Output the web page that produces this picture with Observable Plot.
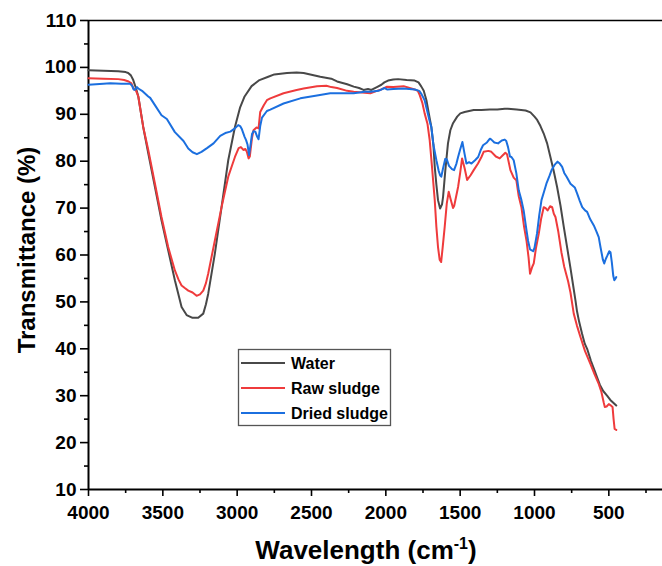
<!DOCTYPE html>
<html><head><meta charset="utf-8">
<script src="https://cdn.jsdelivr.net/npm/d3@7"></script>
<script src="https://cdn.jsdelivr.net/npm/@observablehq/plot@0.6"></script>
<style>
body{margin:0;background:#fff;}
#wrap{position:relative;width:662px;height:566px;overflow:hidden;}
</style></head><body><div id="wrap"></div>
<script>
const seriesNames = ["Water", "Raw sludge", "Dried sludge"];
const seriesColors = ["#484848", "#ef3b3c", "#1b6fdf"];

const xTicks = [4000, 3500, 3000, 2500, 2000, 1500, 1000, 500];
const xMinorTicks = [3750, 3250, 2750, 2250, 1750, 1250, 750, 250];
const yTicks = [10, 20, 30, 40, 50, 60, 70, 80, 90, 100, 110];
const yMinorTicks = [15, 25, 35, 45, 55, 65, 75, 85, 95, 105];

const water = [[4000,99.4],[3900,99.3],[3800,99.2],[3750,99.0],[3733,98.8],[3715,98.3],[3699,97.3],[3680,95.5],[3665,93.8],[3632,87.3],[3598,81.7],[3553,74.5],[3509,67.4],[3464,61.0],[3419,54.6],[3374,48.9],[3340,47.2],[3300,46.6],[3262,46.6],[3228,47.5],[3210,49.5],[3195,51.7],[3150,60.3],[3105,70.2],[3060,80.2],[3015,87.3],[2980,91.5],[2950,93.8],[2903,96.0],[2850,97.3],[2791,98.0],[2750,98.5],[2665,98.8],[2600,98.9],[2553,98.8],[2441,98.0],[2367,97.6],[2328,97.0],[2260,96.4],[2216,95.9],[2180,95.6],[2150,95.2],[2120,95.4],[2097,95.2],[2060,95.8],[2030,96.3],[2010,96.8],[1985,97.2],[1950,97.4],[1918,97.5],[1860,97.3],[1806,97.2],[1780,96.8],[1761,95.9],[1745,95.0],[1727,93.0],[1710,90.0],[1694,87.3],[1680,83.5],[1671,78.8],[1660,75.0],[1649,71.7],[1635,69.9],[1622,70.8],[1615,72.4],[1600,78.0],[1582,83.8],[1566,86.6],[1548,88.1],[1520,89.5],[1499,90.2],[1470,90.5],[1409,90.9],[1357,90.9],[1300,91.0],[1250,91.0],[1200,91.2],[1178,91.2],[1120,91.0],[1060,90.8],[1027,90.4],[1000,89.5],[982,88.8],[960,87.5],[938,85.9],[915,83.8],[893,80.9],[870,77.8],[848,74.5],[825,70.5],[803,66.0],[780,61.5],[758,57.2],[740,53.5],[724,50.2],[714,48.0],[700,45.8],[680,43.2],[662,41.1],[646,40.0],[620,37.4],[595,35.3],[579,33.9],[560,32.3],[538,31.0],[512,30.0],[490,29.1],[470,28.5],[450,27.9]];

const rawSludge = [[4000,97.7],[3900,97.6],[3800,97.5],[3760,97.3],[3730,97.0],[3711,96.6],[3700,95.6],[3689,95.3],[3680,95.0],[3665,93.8],[3632,87.3],[3598,82.4],[3553,75.2],[3509,68.1],[3464,61.7],[3419,56.7],[3395,54.8],[3374,53.5],[3350,52.9],[3329,52.4],[3300,52.0],[3273,51.3],[3250,51.6],[3228,52.4],[3210,54.0],[3195,56.0],[3150,63.1],[3105,70.2],[3060,76.7],[3030,79.5],[3015,80.9],[2990,82.8],[2975,83.0],[2957,82.4],[2945,82.6],[2935,82.0],[2923,80.6],[2915,81.0],[2900,85.0],[2890,86.6],[2870,87.2],[2856,87.0],[2845,90.5],[2820,92.0],[2800,93.0],[2777,93.4],[2688,94.5],[2600,95.2],[2553,95.5],[2463,96.0],[2400,96.1],[2367,95.8],[2328,95.6],[2260,95.0],[2216,94.8],[2143,94.6],[2104,94.5],[2060,95.0],[2030,95.3],[1992,95.9],[1950,95.8],[1880,96.0],[1806,95.3],[1785,95.0],[1772,94.1],[1755,92.5],[1739,90.2],[1720,88.0],[1705,84.5],[1690,79.0],[1671,71.7],[1660,66.0],[1649,61.7],[1638,59.0],[1628,58.5],[1618,61.5],[1604,66.0],[1590,71.0],[1577,73.5],[1565,72.0],[1548,70.0],[1540,70.5],[1514,74.5],[1500,77.5],[1487,80.6],[1470,78.5],[1453,76.0],[1430,77.0],[1409,78.1],[1380,79.5],[1357,80.9],[1342,82.0],[1310,82.2],[1290,82.0],[1260,81.0],[1234,80.6],[1215,81.2],[1196,81.8],[1185,81.5],[1162,78.1],[1140,76.5],[1122,75.9],[1106,72.5],[1088,70.2],[1070,66.0],[1054,63.1],[1040,59.5],[1030,56.0],[1015,57.5],[1005,58.2],[990,61.5],[971,64.6],[955,67.8],[938,70.2],[925,70.0],[912,69.5],[904,69.9],[895,70.4],[881,70.2],[870,68.8],[859,68.1],[840,65.0],[819,60.6],[800,57.5],[774,54.4],[758,52.0],[736,47.5],[715,45.0],[691,42.5],[660,39.5],[624,36.8],[595,34.5],[568,32.5],[550,30.8],[534,28.5],[527,27.6],[515,27.7],[500,28.2],[490,28.0],[475,27.6],[468,25.0],[461,22.9],[450,22.7]];

const driedSludge = [[4000,96.3],[3900,96.5],[3854,96.6],[3780,96.5],[3719,96.5],[3705,96.0],[3697,95.3],[3688,95.2],[3674,95.8],[3665,95.5],[3640,95.0],[3598,93.8],[3585,93.5],[3550,91.8],[3509,89.8],[3473,89.0],[3419,86.2],[3361,84.3],[3329,82.7],[3300,81.9],[3271,81.5],[3240,82.0],[3203,82.8],[3159,83.8],[3114,85.4],[3080,86.0],[3046,86.3],[3015,87.0],[2993,87.7],[2980,87.5],[2968,86.8],[2950,85.2],[2940,84.5],[2930,83.5],[2920,81.3],[2910,83.5],[2900,85.8],[2890,86.4],[2878,86.3],[2865,85.2],[2856,84.7],[2845,87.5],[2833,89.3],[2800,90.7],[2777,91.0],[2688,92.3],[2575,93.4],[2463,94.0],[2374,94.5],[2300,94.5],[2216,94.5],[2143,94.8],[2104,94.8],[2050,95.0],[2008,95.6],[1992,95.3],[1950,95.4],[1880,95.5],[1806,95.3],[1775,95.0],[1760,94.3],[1739,93.0],[1720,90.5],[1705,88.5],[1694,87.3],[1680,83.5],[1660,80.2],[1645,78.0],[1635,77.0],[1627,76.7],[1615,78.5],[1600,80.5],[1590,80.4],[1575,79.0],[1555,78.3],[1541,78.1],[1525,79.5],[1514,80.9],[1500,82.5],[1485,84.1],[1470,81.5],[1458,79.5],[1440,79.8],[1424,79.5],[1400,80.2],[1379,80.9],[1360,82.5],[1346,83.4],[1320,84.0],[1300,84.8],[1290,84.6],[1270,84.0],[1245,83.8],[1220,84.4],[1200,84.6],[1190,84.3],[1178,83.0],[1165,81.0],[1155,80.9],[1140,80.2],[1122,77.4],[1106,73.8],[1088,71.7],[1073,69.5],[1055,65.5],[1043,63.0],[1030,61.2],[1009,60.8],[1000,61.5],[983,64.6],[968,68.5],[953,71.7],[935,73.6],[920,75.2],[900,76.8],[885,78.1],[865,79.2],[845,79.9],[830,79.5],[814,78.8],[800,77.5],[784,76.7],[758,75.2],[729,74.4],[713,73.1],[695,71.5],[679,70.2],[660,69.5],[646,69.2],[625,67.6],[601,66.3],[583,65.0],[568,63.8],[555,61.5],[540,59.0],[531,58.2],[520,59.2],[511,59.8],[497,60.8],[489,60.6],[480,58.5],[470,55.5],[463,54.6],[455,55.0],[450,55.3]];

const seriesData = [water, rawSludge, driedSludge];
const rows = seriesData.flatMap((arr, i) => arr.map(([w, t]) => ({series: seriesNames[i], w, t})));

const FONT = "'Liberation Sans', Arial, sans-serif";

const chart = Plot.plot({
  width: 662, height: 566,
  marginLeft: 88, marginRight: 0, marginTop: 20, marginBottom: 77,
  style: {fontFamily: FONT, fontWeight: "bold", fontSize: "19px", color: "#000", background: "#fff"},
  x: {domain: [4000, 139]},
  y: {domain: [10, 110]},
  color: {domain: seriesNames, range: seriesColors},
  marks: [
    Plot.axisX({ticks: xTicks, tickSize: 7, tickPadding: 9, tickFormat: d => String(d), label: null, strokeWidth: 1.6}),
    Plot.axisX({ticks: xMinorTicks, tickSize: 4, tickFormat: () => "", label: null, strokeWidth: 1.6}),
    Plot.axisY({ticks: yTicks, tickSize: 8, tickPadding: 4, tickFormat: d => String(d), label: null, strokeWidth: 1.6}),
    Plot.axisY({ticks: yMinorTicks, tickSize: 4, tickFormat: () => "", label: null, strokeWidth: 1.6}),
    Plot.ruleX([4000], {stroke: "#000", strokeWidth: 2}),
    Plot.ruleY([10], {stroke: "#000", strokeWidth: 2}),
    Plot.ruleY([110], {stroke: "#000", strokeWidth: 1.6}),
    Plot.line(rows, {x: "w", y: "t", z: "series", stroke: "series", strokeWidth: 2})
  ]
});

const svg = d3.select(chart);
// Y title
svg.append("text")
  .attr("transform", "translate(27,250) rotate(-90)")
  .attr("text-anchor", "middle").attr("dy", "0.35em")
  .style("font-family", FONT).style("font-weight", "bold").style("font-size", "24px").attr("fill", "#000")
  .text("Transmittance (%)");
// X title
const xt = svg.append("text")
  .attr("x", 366).attr("y", 559).attr("text-anchor", "middle")
  .style("font-family", FONT).style("font-weight", "bold").style("font-size", "26px").attr("fill", "#000");
xt.append("tspan").text("Wavelength (cm");
xt.append("tspan").attr("dy", -10).style("font-size", "16px").text("-1");
xt.append("tspan").attr("dy", 10).text(")");

// Legend
const lg = svg.append("g").attr("transform", "translate(238,349)");
lg.append("rect").attr("x", 0.5).attr("y", 0.5).attr("width", 152).attr("height", 76)
  .attr("fill", "#fff").attr("stroke", "#555").attr("stroke-width", 1.3);
seriesNames.forEach((name, i) => {
  const cy = 14 + i * 25;
  lg.append("line").attr("x1", 3).attr("x2", 47).attr("y1", cy).attr("y2", cy)
    .attr("stroke", seriesColors[i]).attr("stroke-width", 2);
  lg.append("text").attr("x", 53).attr("y", cy).attr("dy", "0.35em")
    .attr("text-anchor", "start")
    .style("font-family", FONT).style("font-weight", "bold").style("font-size", "16px").attr("fill", "#000")
    .text(name);
});

document.getElementById("wrap").appendChild(chart);
</script></body></html>
